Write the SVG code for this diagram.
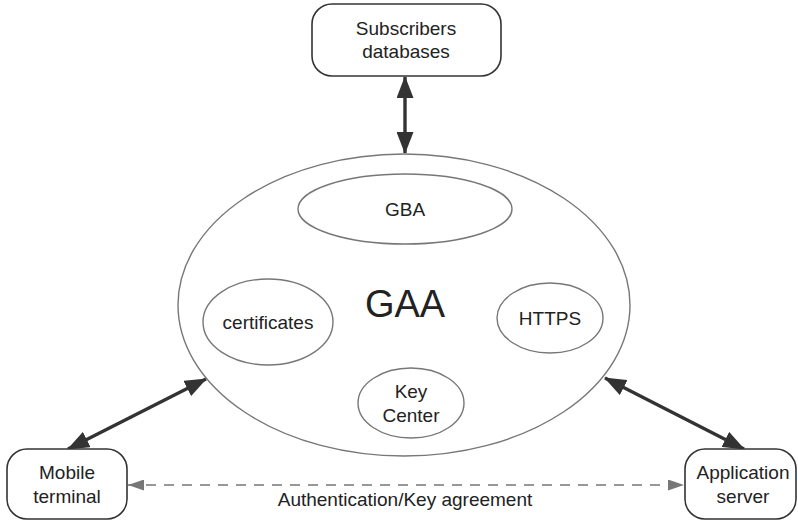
<svg xmlns="http://www.w3.org/2000/svg" width="798" height="521" viewBox="0 0 798 521">
  <defs>
    <style>
      .box { fill: #fff; stroke: #333; stroke-width: 1.6; }
      .oval { fill: none; stroke: #777; stroke-width: 1.4; }
      .lbl { font-family: "Liberation Sans", Arial, sans-serif; font-size: 19px; fill: #222; text-anchor: middle; }
      .big { font-size: 38px; }
      .link { stroke: #333; stroke-width: 3.4; fill: none; marker-start: url(#headS); marker-end: url(#headE); }
      .dash { stroke: #777; stroke-width: 1.6; stroke-dasharray: 10 8; fill: none; marker-start: url(#grayS); marker-end: url(#grayE); }
    </style>
    <marker id="headE" viewBox="0 0 22 17" refX="21" refY="8.5" markerWidth="22" markerHeight="17" orient="auto" markerUnits="userSpaceOnUse">
      <path d="M0,0 L22,8.5 L0,17 z" fill="#333"/>
    </marker>
    <marker id="headS" viewBox="0 0 22 17" refX="1" refY="8.5" markerWidth="22" markerHeight="17" orient="auto" markerUnits="userSpaceOnUse">
      <path d="M22,0 L0,8.5 L22,17 z" fill="#333"/>
    </marker>
    <marker id="grayE" viewBox="0 0 16 11" refX="16" refY="5.5" markerWidth="16" markerHeight="11" orient="auto" markerUnits="userSpaceOnUse">
      <path d="M0,0 L16,5.5 L0,11 z" fill="#777"/>
    </marker>
    <marker id="grayS" viewBox="0 0 16 11" refX="0" refY="5.5" markerWidth="16" markerHeight="11" orient="auto" markerUnits="userSpaceOnUse">
      <path d="M16,0 L0,5.5 L16,11 z" fill="#777"/>
    </marker>
  </defs>

  <!-- connectors -->
  <g id="connectors">
    <line class="link" x1="405" y1="77" x2="405" y2="153"/>
    <line class="link" x1="68" y1="449" x2="206" y2="379"/>
    <line class="link" x1="605" y1="378" x2="744" y2="449"/>
    <line class="dash" x1="128" y1="485" x2="684" y2="485"/>
    <text class="lbl" x="405" y="506">Authentication/Key agreement</text>
  </g>

  <g id="subscribers">
    <rect class="box" x="312" y="4" width="189" height="72" rx="20"/>
    <text class="lbl" x="406" y="35">Subscribers</text>
    <text class="lbl" x="406" y="58">databases</text>
  </g>

  <g id="gaa">
    <ellipse class="oval" cx="404" cy="305" rx="226" ry="151"/>
    <text class="lbl big" x="405" y="317">GAA</text>
  </g>

  <g id="gba">
    <ellipse class="oval" cx="405" cy="209" rx="107" ry="35"/>
    <text class="lbl" x="405" y="216">GBA</text>
  </g>

  <g id="certificates">
    <ellipse class="oval" cx="268" cy="322" rx="65" ry="43"/>
    <text class="lbl" x="268" y="329">certificates</text>
  </g>

  <g id="https">
    <ellipse class="oval" cx="550" cy="318" rx="53" ry="35"/>
    <text class="lbl" x="550" y="325">HTTPS</text>
  </g>

  <g id="keycenter">
    <ellipse class="oval" cx="411" cy="403" rx="53" ry="35"/>
    <text class="lbl" x="411" y="398">Key</text>
    <text class="lbl" x="411" y="422">Center</text>
  </g>

  <g id="mobile">
    <rect class="box" x="7" y="449" width="120" height="70" rx="20"/>
    <text class="lbl" x="67" y="479">Mobile</text>
    <text class="lbl" x="67" y="503">terminal</text>
  </g>

  <g id="appserver">
    <rect class="box" x="685" y="449" width="111" height="70" rx="20"/>
    <text class="lbl" x="743" y="479">Application</text>
    <text class="lbl" x="743" y="503">server</text>
  </g>
</svg>
